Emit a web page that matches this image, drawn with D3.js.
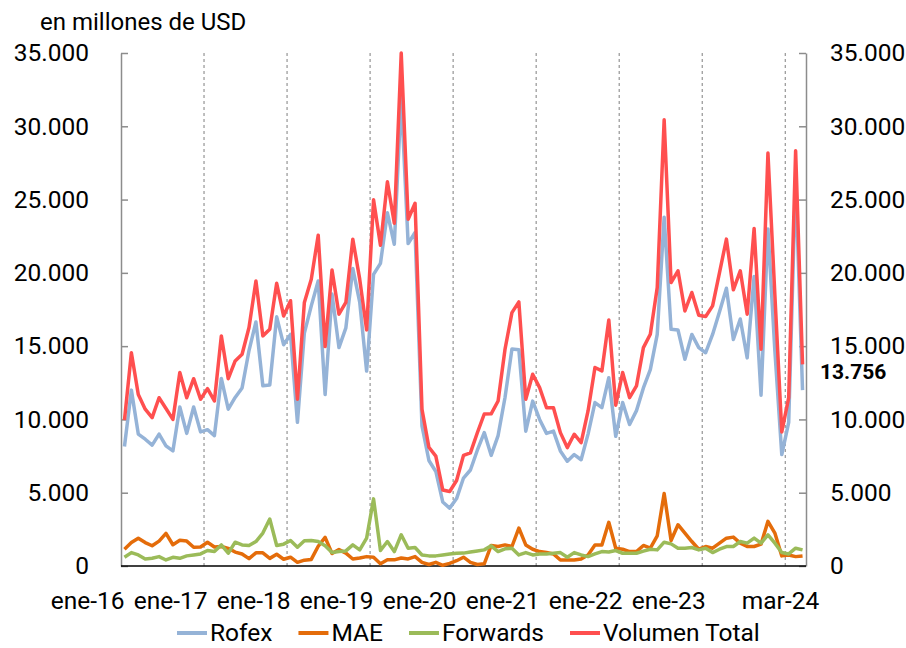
<!DOCTYPE html>
<html>
<head>
<meta charset="utf-8">
<script src="https://cdnjs.cloudflare.com/ajax/libs/d3/7.8.5/d3.min.js"></script>
<style>
  body { margin: 0; background: #fff; }
  text { font-family: Roboto, "Liberation Sans", sans-serif; fill: #000; }
</style>
</head>
<body>
<div id="chart"></div>
<script>
// monthly volumes, ene-16 .. mar-24 (millones de USD)
const rofex = [8150,12000,9000,8650,8250,9000,8200,7850,10850,9050,10850,9150,
  9300,8900,12800,10700,11500,12150,14700,16650,12300,12350,17000,15100,
  15800,9800,15900,17750,19450,11700,18550,14900,16250,20300,18000,13300,
  19900,20650,24100,21950,32000,22000,22750,9550,7200,6450,4370,3950,
  4600,6000,6550,7900,9100,7550,8900,11500,14800,14750,9200,11250,
  10000,9050,9200,7850,7150,7600,7250,9000,11150,10800,12850,8850,
  11150,9650,10600,12150,13400,15800,23800,16150,16100,14100,15800,14900,
  14550,15800,17350,18950,15450,16850,14200,19750,11650,23000,14700,7600,
  9800,26400,12000];

const mae = [1150,1600,1900,1600,1380,1700,2230,1450,1750,1700,1280,1300,
  1620,1300,1330,1200,950,820,500,900,900,520,800,460,
  600,250,400,450,1350,1950,850,1120,880,480,550,640,
  600,150,420,420,550,480,640,250,100,250,50,180,
  360,600,250,100,150,1400,1330,1440,1330,2590,1440,1145,
  985,915,825,410,410,410,480,755,1440,1440,2980,1215,
  1145,985,985,1400,1215,2060,4950,1740,2815,2245,1670,1145,
  1330,1215,1560,1900,1970,1560,1330,1330,1490,3045,2245,690,
  755,640,690];

const forwards = [595,915,755,480,525,640,410,595,525,690,755,825,
  1055,985,1440,870,1625,1440,1400,1670,2245,3205,1400,1490,
  1740,1280,1720,1740,1670,1375,915,985,1030,1440,1100,1900,
  4580,1055,1670,985,2130,1215,1260,755,690,690,755,825,
  870,880,960,1030,1100,1375,985,1170,1215,755,915,755,
  825,825,870,915,595,915,755,640,825,985,960,1055,
  870,870,870,1010,1145,1100,1625,1510,1215,1215,1260,1100,
  1215,915,1145,1330,1330,1670,1560,1900,1560,2130,1560,915,
  825,1215,1100];

const volumenTotal = [9950,14550,11700,10700,10120,11480,10750,10000,13200,11480,12780,11380,
  12100,11260,15700,12780,13990,14450,16270,19450,15700,16150,19290,17060,
  18100,11380,17980,19570,22570,14970,20200,17180,17980,22300,19570,16110,
  24980,21890,26210,23390,35000,23660,24750,10690,8100,7500,5190,5080,
  5830,7550,7720,9090,10370,10380,11260,14790,17290,18020,11380,13080,
  12170,10800,10800,9100,8080,8990,8420,10580,13540,13310,16790,10970,
  13200,11490,12290,14900,15810,19000,30440,19340,20140,17400,18660,17110,
  17020,17750,20020,22300,18840,20140,17180,23030,14790,28170,18500,9150,
  11490,28330,13756];

const seriesNames = ["Rofex", "MAE", "Forwards", "Volumen Total"];
const seriesColors = ["#95b3d7", "#e46c0a", "#9bbb59", "#ff4f4f"];
const yTicks = [0, 5000, 10000, 15000, 20000, 25000, 30000, 35000];

const months = d3.timeMonth.range(new Date(2016, 0, 1), new Date(2024, 3, 1));

const es = d3.timeFormatLocale({
  dateTime: "%x %X", date: "%d/%m/%Y", time: "%H:%M:%S",
  periods: ["AM", "PM"],
  days: ["domingo","lunes","martes","miércoles","jueves","viernes","sábado"],
  shortDays: ["dom","lun","mar","mié","jue","vie","sáb"],
  months: ["enero","febrero","marzo","abril","mayo","junio","julio","agosto","septiembre","octubre","noviembre","diciembre"],
  shortMonths: ["ene","feb","mar","abr","may","jun","jul","ago","sep","oct","nov","dic"]
});
const fmtMonth = es.format("%b-%y");
const fmtNum = d3.formatLocale({decimal: ",", thousands: ".", grouping: [3], currency: ["$", ""]}).format(",.0f");

const W = 906, H = 648;
const FS = "24.5px";
const margin = {top: 53, right: 100, bottom: 82, left: 121};
const width = W - margin.left - margin.right,
      height = H - margin.top - margin.bottom;

const svg = d3.select("#chart").append("svg")
  .attr("width", W).attr("height", H);

svg.append("text")
  .attr("x", 40).attr("y", 30)
  .style("font-size", "24px")
  .text("en millones de USD");

const g = svg.append("g")
  .attr("transform", `translate(${margin.left},${margin.top})`);

const x = d3.scaleBand()
  .domain(d3.range(months.length))
  .range([0, width]);
const xc = i => x(i) + x.bandwidth() / 2;

const y = d3.scaleLinear().domain([0, 35000]).range([height, 0]);

// dashed year separators
const janIdx = months.map((d, i) => i).filter(i => i > 0 && months[i].getMonth() === 0);
g.selectAll(".sep").data(janIdx).join("line")
  .attr("x1", i => x(i)).attr("x2", i => x(i))
  .attr("y1", 0).attr("y2", height)
  .attr("stroke", "#7f7f7f").attr("stroke-width", 1)
  .attr("stroke-dasharray", "3,3");

// axes
const yl = g.append("g")
  .call(d3.axisLeft(y).tickValues(yTicks).tickFormat(fmtNum)
    .tickSizeInner(-7).tickSizeOuter(0).tickPadding(32));
const yr = g.append("g")
  .attr("transform", `translate(${width},0)`)
  .call(d3.axisRight(y).tickValues(yTicks).tickFormat(fmtNum)
    .tickSizeInner(-7).tickSizeOuter(0).tickPadding(24));
[yl, yr].forEach(a => {
  a.select(".domain").attr("stroke", "#8c8c8c").attr("stroke-width", 1.5);
  a.selectAll(".tick line").attr("stroke", "#8c8c8c").attr("stroke-width", 1.5);
  a.selectAll("text").style("font-size", FS).attr("fill", "#000");
});
yr.selectAll("text").attr("text-anchor", "start");

g.append("line")
  .attr("x1", 0).attr("x2", width)
  .attr("y1", height).attr("y2", height)
  .attr("stroke", "#000").attr("stroke-width", 1.5);

// x labels: every January + last month
const labelIdx = months.map((d, i) => i)
  .filter(i => (months[i].getMonth() === 0 && months[i].getFullYear() < 2024) || i === months.length - 1);
g.selectAll(".xl").data(labelIdx).join("text")
  .attr("x", i => i === months.length - 1 ? xc(i) - 22 : xc(i))
  .attr("y", height + 43)
  .attr("text-anchor", i => i === months.length - 1 ? "middle" : "end")
  .style("font-size", FS)
  .text(i => fmtMonth(months[i]));

// lines
const allSeries = [rofex, mae, forwards, volumenTotal];
const line = d3.line().x((d, i) => xc(i)).y(d => y(d));
g.selectAll(".series").data(allSeries).join("path")
  .attr("fill", "none")
  .attr("stroke", (d, i) => seriesColors[i])
  .attr("stroke-width", 3.5)
  .attr("stroke-linejoin", "round")
  .attr("d", line);

// last value label
const last = volumenTotal.length - 1;
g.append("text")
  .attr("x", width + 14)
  .attr("y", y(volumenTotal[last]) + 15)
  .style("font-size", "21px")
  .style("font-weight", "bold")
  .text(fmtNum(volumenTotal[last]));

// legend
const legend = svg.append("g").attr("transform", `translate(0,${H - 15})`);
let lx = 177;
seriesNames.forEach((name, i) => {
  legend.append("line")
    .attr("x1", lx).attr("x2", lx + 30)
    .attr("y1", 0).attr("y2", 0)
    .attr("stroke", seriesColors[i]).attr("stroke-width", 4);
  const t = legend.append("text")
    .attr("x", lx + 33).attr("y", 8)
    .style("font-size", FS)
    .text(name);
  lx += 33 + t.node().getComputedTextLength() + 26;
});
</script>
</body>
</html>
